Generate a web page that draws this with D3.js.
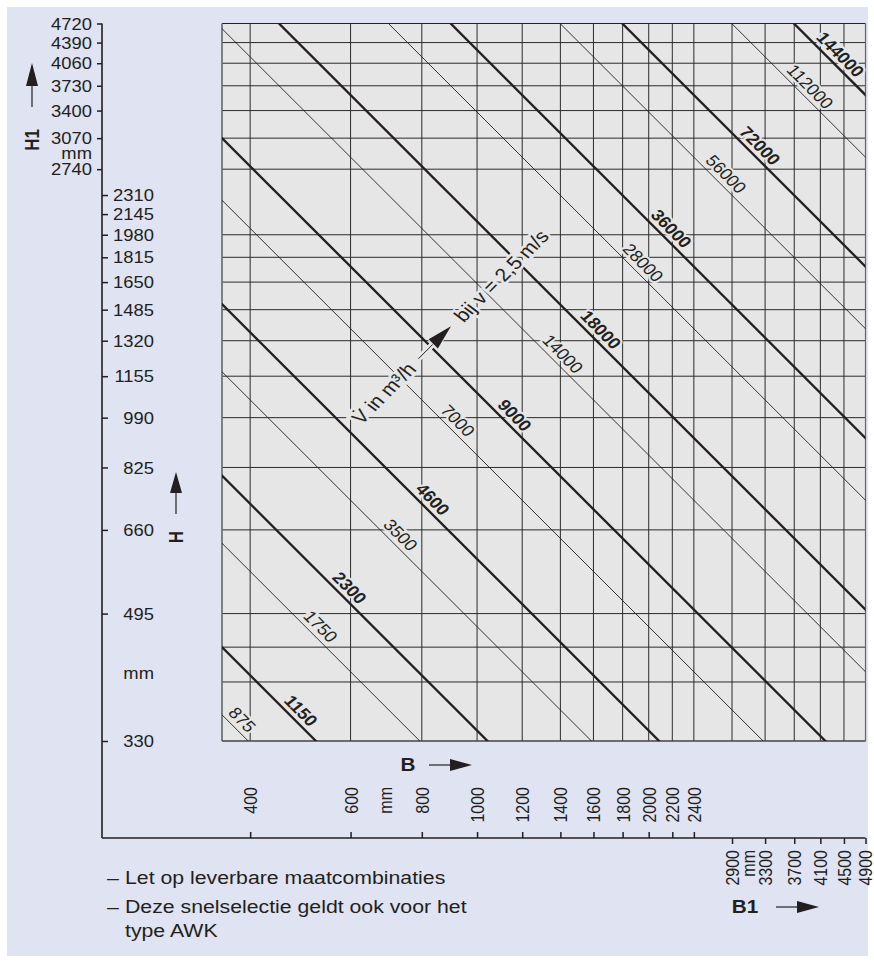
<!DOCTYPE html>
<html><head><meta charset="utf-8">
<script src="https://cdn.jsdelivr.net/npm/d3@7"></script>
<style>
body{margin:0;background:#fff}
svg{display:block}
text{font-family:"Liberation Sans",Arial,Helvetica,sans-serif}
</style>
</head><body>
<svg id="c" width="874" height="963"></svg>
<script>
// ---------------- data ----------------
const bTicks  = [400,600,800,1000,1200,1400,1600,1800,2000,2200,2400];
const b1Ticks = [2900,3300,3700,4100,4500,4900];
const hTicks  = [330,495,660,825,990,1155,1320,1485,1650,1815,1980,2145,2310];
const hGrid   = [396,443,495,660,825,990,1155,1320,1485,1650,1815,1980];   // horizontal grid lines (H)
const h1Ticks = [2740,3070,3400,3730,4060,4390,4720];
const thickFlows   = [1150,2300,4600,9000,18000,36000,72000,144000];
const thickLabelAt = [474,577,807,1124,1591,2115,3025,4185];   // B (effective) where label sits
const thinFlows    = [875,1750,3500,7000,14000,28000,56000,112000];
const thinLabelAt  = [374,513,709,893,1365,1887,2639,3705];
const velocity = 2.5;       // m/s
const FRAME_H = 85;         // mm not effective in height
const MULLION = 100;        // mm between two coupled units (B1, H1)
const B_MIN = 357, B1_MAX = 4900, H_MIN = 330, H1_MAX = 4720;
const notes = [["–","Let op leverbare maatcombinaties"],["–","Deze snelselectie geldt ook voor het"],["","type AWK"]];

// ---------------- setup ----------------
const INK = "#231f20", S = 1.15, FS = 16, FS_NOTE = 18.5, FS_ANN = 18.5;
const effB  = b  => b;
const effB1 = b1 => b1 - MULLION;
const effH  = h  => h - FRAME_H;
const effH1 = h1 => h1 - MULLION - 2*FRAME_H;

const svg = d3.select("#c");
svg.append("rect").attr("width",874).attr("height",963).attr("fill","#fff");
svg.append("rect").attr("x",7).attr("y",7).attr("width",861).attr("height",949).attr("fill","#dfe3f2");

const P = {l:222, r:865.5, t:23.5, b:741};
const AX = 102, AY = 838;
const x = d3.scaleLog().domain([effB(B_MIN), effB1(B1_MAX)]).range([P.l, P.r]);
const y = d3.scaleLog().domain([effH(H_MIN), effH1(H1_MAX)]).range([P.b, P.t]);
const T = (px,py,rot,s=S) => `translate(${px},${py}) scale(${s},1)` + (rot!==undefined ? ` rotate(${rot})` : "");

// plot background
svg.append("rect").attr("x",P.l).attr("y",P.t).attr("width",P.r-P.l).attr("height",P.b-P.t).attr("fill","#e6e6e6");
svg.append("clipPath").attr("id","clip").append("rect").attr("x",P.l).attr("y",P.t).attr("width",P.r-P.l).attr("height",P.b-P.t);

// grid
const grid = svg.append("g").attr("stroke","#2b2b2b").attr("stroke-width",1);
const vx = bTicks.map(b=>x(effB(b))).concat(b1Ticks.slice(0,-1).map(b=>x(effB1(b))));
grid.selectAll("line.v").data(vx).join("line").attr("class","v")
  .attr("x1",d=>d).attr("x2",d=>d).attr("y1",P.t).attr("y2",P.b);
const hy = hGrid.map(h=>y(effH(h))).concat(h1Ticks.slice(0,-1).map(h=>y(effH1(h))));
grid.selectAll("line.h").data(hy).join("line").attr("class","h")
  .attr("y1",d=>d).attr("y2",d=>d).attr("x1",P.l).attr("x2",P.r);
// frame
svg.append("line").attr("x1",P.l).attr("x2",P.r).attr("y1",P.t).attr("y2",P.t).attr("stroke","#222").attr("stroke-width",1);
svg.append("line").attr("x1",P.r).attr("x2",P.r).attr("y1",P.t).attr("y2",P.b).attr("stroke","#666").attr("stroke-width",1.2);
svg.append("line").attr("x1",P.l).attr("x2",P.l).attr("y1",P.t).attr("y2",P.b).attr("stroke","#666").attr("stroke-width",1.6);
svg.append("line").attr("x1",P.l).attr("x2",P.r).attr("y1",P.b).attr("y2",P.b).attr("stroke","#444").attr("stroke-width",1.6);

// flow lines: B * Heff = V / (v*3600) * 1e6
const areaOf = V => V * 1e6 / (velocity * 3600);
const flows = thickFlows.map((v,i)=>({V:v, bold:true, at:thickLabelAt[i]}))
  .concat(thinFlows.map((v,i)=>({V:v, bold:false, at:thinLabelAt[i]})));
const fl = svg.append("g").attr("clip-path","url(#clip)");
fl.selectAll("line").data(flows).join("line")
  .attr("x1",d=>x(100)).attr("y1",d=>y(areaOf(d.V)/100))
  .attr("x2",d=>x(20000)).attr("y2",d=>y(areaOf(d.V)/20000))
  .attr("stroke",INK).attr("stroke-width",d=>d.bold?2.3:0.9);

// flow labels
const lab = svg.append("g");
flows.forEach(d=>{
  const A = areaOf(d.V);
  const px = x(d.at), py = y(A/d.at);
  const dx = x(d.at*1.2)-px, dy = y(A/(d.at*1.2))-py;
  const th = Math.atan2(dy,dx);
  const thp = Math.atan(S*Math.tan(th))*180/Math.PI;
  lab.append("text").attr("transform",T(px,py,thp)).attr("dy",-4.5)
    .attr("text-anchor","middle").attr("font-size",FS).attr("font-weight",d.bold?"bold":"normal")
    .attr("fill",INK).attr("stroke","#e6e6e6").attr("stroke-width",4).attr("paint-order","stroke")
    .text(d.V);
});

// annotation  V in m3/h -> bij v = 2,5 m/s
{
  const ax0 = x(690), ay0 = y(effH(1089));
  const u = [Math.SQRT1_2, -Math.SQRT1_2];
  const pt = t => [ax0 + t*u[0], ay0 + t*u[1]];
  const rot = -Math.atan(S)*180/Math.PI;
  const g = svg.append("g");
  const halo = sel => sel.attr("stroke","#e6e6e6").attr("stroke-width",5).attr("paint-order","stroke");
  g.append("text").attr("transform",T(...pt(-2),rot)).attr("text-anchor","middle").attr("dy","0.35em")
    .attr("font-size",FS_ANN).attr("fill",INK).call(halo).text("V̇ in m³/h");
  const a0 = pt(47), a1 = pt(70), a2 = pt(93);
  g.append("line").attr("x1",a0[0]).attr("y1",a0[1]).attr("x2",a1[0]).attr("y2",a1[1]).attr("stroke","#e6e6e6").attr("stroke-width",6);
  g.append("line").attr("x1",a0[0]).attr("y1",a0[1]).attr("x2",a1[0]).attr("y2",a1[1]).attr("stroke",INK).attr("stroke-width",1);
  const n = [Math.SQRT1_2, Math.SQRT1_2];
  const tri = [a2, [a1[0]+6.5*n[0]-2*u[0], a1[1]+6.5*n[1]-2*u[1]], [a1[0]-6.5*n[0]-2*u[0], a1[1]-6.5*n[1]-2*u[1]]];
  g.append("path").attr("d","M"+tri.map(p=>p.join(",")).join("L")+"Z").attr("fill",INK).attr("stroke","#e6e6e6").attr("stroke-width",2).attr("paint-order","stroke");
  g.append("text").attr("transform",T(...pt(103),rot)).attr("text-anchor","start").attr("dy","0.35em")
    .attr("font-size",FS_ANN).attr("fill",INK).call(halo).text("bij  v = 2,5 m/s");
}

// axes lines
svg.append("line").attr("x1",AX).attr("x2",AX).attr("y1",P.t).attr("y2",AY).attr("stroke",INK).attr("stroke-width",1.6);
svg.append("line").attr("x1",AX).attr("x2",P.r).attr("y1",AY).attr("y2",AY).attr("stroke",INK).attr("stroke-width",1.6);

function styleAxis(g){
  g.select(".domain").remove();
  g.attr("font-family",null).attr("font-size",FS);
  g.selectAll(".tick line").attr("stroke",INK).attr("stroke-width",1.5);
  g.selectAll(".tick text").attr("fill",INK).attr("x",null).attr("y",null);
}
const fmt = v => String(Math.round(v));

// H axis (right ticks)
const gH = svg.append("g").attr("transform",`translate(${AX},0)`)
  .call(d3.axisRight(y).tickValues(hTicks.map(effH)).tickSize(6).tickFormat(d=>fmt(d+FRAME_H)));
styleAxis(gH);
gH.selectAll(".tick text").attr("text-anchor","end").attr("dy","0.35em").attr("transform",T(52,0));
// H1 axis (left ticks)
const gH1 = svg.append("g").attr("transform",`translate(${AX},0)`)
  .call(d3.axisLeft(y).tickValues(h1Ticks.map(effH1)).tickSize(5).tickFormat(d=>fmt(d+MULLION+2*FRAME_H)));
styleAxis(gH1);
gH1.selectAll(".tick text").attr("text-anchor","end").attr("dy","0.35em").attr("transform",T(-10,0));
// B axis (ticks up)
const gB = svg.append("g").attr("transform",`translate(0,${AY})`)
  .call(d3.axisTop(x).tickValues(bTicks.map(effB)).tickSize(6).tickFormat(d=>fmt(d)));
styleAxis(gB);
gB.selectAll(".tick text").attr("text-anchor","end").attr("dy","0.35em").attr("transform",T(0,-51,-90));
// B1 axis (ticks down)
const gB1 = svg.append("g").attr("transform",`translate(0,${AY})`)
  .call(d3.axisBottom(x).tickValues(b1Ticks.map(effB1)).tickSize(6).tickFormat(d=>fmt(d+MULLION)));
styleAxis(gB1);
gB1.selectAll(".tick text").attr("text-anchor","end").attr("dy","0.35em").attr("transform",T(0,12,-90));

// unit labels
const txt = (px,py,s,opt={}) => svg.append("text").attr("transform",T(px,py,opt.rot))
  .attr("text-anchor",opt.anchor||"start").attr("dy",opt.dy||"0.35em").attr("font-size",opt.fs||FS)
  .attr("font-weight",opt.bold?"bold":"normal").attr("fill",INK).text(s);
txt(92,153.5,"mm",{anchor:"end"});
txt(154,673,"mm",{anchor:"end"});
txt(386,787,"mm",{anchor:"end",rot:-90});
txt(749,850,"mm",{anchor:"end",rot:-90});

// axis titles + arrows
txt(32,140,"H1",{anchor:"middle",rot:-90,bold:true,fs:17});
txt(176,537,"H",{anchor:"middle",rot:-90,bold:true,fs:17});
txt(408,765,"B",{anchor:"middle",bold:true,fs:18});
txt(745,907,"B1",{anchor:"middle",bold:true,fs:18});
function arrow(x1,y1,x2,y2,len){ // shaft from (x1,y1) to (x2,y2), head beyond
  const dx=x2-x1, dy=y2-y1, L=Math.hypot(dx,dy), ux=dx/L, uy=dy/L;
  svg.append("line").attr("x1",x1).attr("y1",y1).attr("x2",x2).attr("y2",y2).attr("stroke",INK).attr("stroke-width",1.2);
  const tip=[x2+ux*len,y2+uy*len], w=6;
  svg.append("path").attr("d",`M${tip}L${x2-uy*w},${y2+ux*w}L${x2+uy*w},${y2-ux*w}Z`).attr("fill",INK);
}
arrow(32,107,32,86,23);
arrow(176,514,176,493,21);
arrow(429,765,450,765,22);
arrow(776,907,797,907,22);

// notes
notes.forEach((n,i)=>{
  const by = [884,913,937][i];
  if(n[0]) svg.append("text").attr("transform",`translate(107,${by}) scale(${S},1)`).attr("font-size",FS_NOTE).attr("fill",INK).text(n[0]);
  svg.append("text").attr("transform",`translate(125,${by}) scale(${S},1)`).attr("font-size",FS_NOTE).attr("fill",INK).text(n[1]);
});
</script>
</body></html>
